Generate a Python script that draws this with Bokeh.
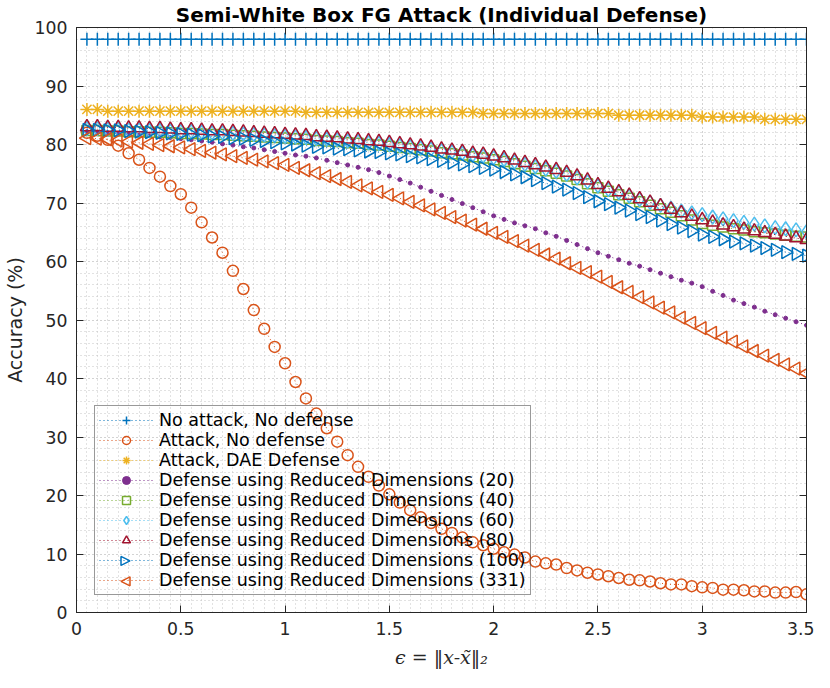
import numpy as np
from bokeh.plotting import figure
from bokeh.models import Range1d, LinearAxis, FixedTicker, Legend, LegendItem, Arrow, NormalHead
from bokeh.embed import file_html
from bokeh.resources import INLINE

eps = [0.05, 0.10, 0.15, 0.20, 0.25, 0.30, 0.35, 0.40, 0.45, 0.50,
       0.55, 0.60, 0.65, 0.70, 0.75, 0.80, 0.85, 0.90, 0.95, 1.00,
       1.05, 1.10, 1.15, 1.20, 1.25, 1.30, 1.35, 1.40, 1.45, 1.50,
       1.55, 1.60, 1.65, 1.70, 1.75, 1.80, 1.85, 1.90, 1.95, 2.00,
       2.05, 2.10, 2.15, 2.20, 2.25, 2.30, 2.35, 2.40, 2.45, 2.50,
       2.55, 2.60, 2.65, 2.70, 2.75, 2.80, 2.85, 2.90, 2.95, 3.00,
       3.05, 3.10, 3.15, 3.20, 3.25, 3.30, 3.35, 3.40, 3.45, 3.50]

no_attack = [98.0] * 70

attack_no_def = [82.0, 81.5, 80.8, 79.8, 78.5, 77.4, 76.0, 74.5, 72.9, 71.5,
                 69.2, 66.7, 64.1, 61.5, 58.4, 55.3, 51.7, 48.5, 45.4, 42.6,
                 39.4, 36.6, 34.0, 31.5, 29.2, 26.9, 24.9, 23.2, 21.7, 20.2,
                 18.8, 17.5, 16.3, 15.3, 14.3, 13.6, 12.8, 12.0, 11.5, 10.9,
                 10.3, 9.9, 9.4, 8.7, 8.4, 8.2, 7.6, 7.2, 6.8, 6.5,
                 6.2, 5.9, 5.6, 5.5, 5.3, 5.0, 4.8, 4.8, 4.5, 4.3,
                 4.2, 3.9, 3.9, 3.8, 3.6, 3.6, 3.4, 3.4, 3.5, 3.1]

dae = [86.0, 86.0, 85.7, 85.7, 85.7, 85.7, 85.7, 85.7, 85.7, 85.7,
       85.7, 85.7, 85.7, 85.7, 85.7, 85.7, 85.7, 85.7, 85.7, 85.7,
       85.7, 85.5, 85.5, 85.5, 85.5, 85.5, 85.5, 85.5, 85.5, 85.5,
       85.5, 85.5, 85.5, 85.5, 85.5, 85.5, 85.5, 85.5, 85.3, 85.3,
       85.3, 85.3, 85.3, 85.3, 85.3, 85.3, 85.3, 85.3, 85.3, 85.3,
       85.3, 85.0, 85.0, 85.0, 85.0, 85.0, 85.0, 85.0, 85.0, 84.7,
       84.7, 84.7, 84.7, 84.7, 84.7, 84.3, 84.3, 84.3, 84.3, 84.3]

rd20 = [82.2, 82.1, 82.0, 81.9, 81.8, 81.6, 81.5, 81.3, 81.2, 81.0,
        80.8, 80.6, 80.4, 80.1, 79.9, 79.6, 79.4, 79.1, 78.8, 78.5,
        78.2, 78.0, 77.7, 77.3, 76.9, 76.5, 76.1, 75.7, 75.2, 74.6,
        74.0, 73.4, 72.7, 72.0, 71.3, 70.6, 69.9, 69.2, 68.5, 67.8,
        67.2, 66.6, 66.1, 65.6, 64.9, 64.3, 63.6, 62.9, 62.2, 61.5,
        60.9, 60.3, 59.7, 59.2, 58.6, 58.0, 57.4, 56.8, 56.3, 55.7,
        54.9, 54.2, 53.4, 52.8, 52.2, 51.5, 50.9, 50.3, 49.7, 49.1]

rd40 = [82.4, 82.4, 82.3, 82.3, 82.2, 82.2, 82.1, 82.1, 82.0, 81.9,
        81.9, 81.8, 81.7, 81.7, 81.6, 81.5, 81.4, 81.3, 81.2, 81.1,
        81.0, 80.9, 80.7, 80.6, 80.5, 80.3, 80.2, 80.0, 79.9, 79.7,
        79.5, 79.3, 79.1, 78.9, 78.6, 78.4, 78.2, 77.9, 77.7, 77.4,
        77.1, 76.7, 76.3, 75.9, 75.5, 75.1, 74.6, 74.0, 73.3, 72.6,
        72.0, 71.4, 70.8, 70.2, 69.6, 69.0, 68.4, 67.8, 67.1, 66.5,
        66.2, 65.9, 65.6, 65.4, 65.1, 64.9, 64.7, 64.5, 64.3, 64.2]

rd60 = [82.7, 82.7, 82.6, 82.6, 82.5, 82.5, 82.4, 82.4, 82.3, 82.2,
        82.2, 82.1, 82.0, 82.0, 81.9, 81.8, 81.7, 81.6, 81.5, 81.4,
        81.3, 81.2, 81.0, 80.9, 80.8, 80.6, 80.5, 80.3, 80.2, 80.0,
        79.8, 79.6, 79.4, 79.2, 78.9, 78.7, 78.5, 78.2, 78.0, 77.7,
        77.4, 77.0, 76.6, 76.2, 75.8, 75.4, 74.9, 74.3, 73.6, 72.9,
        72.3, 71.8, 71.2, 70.6, 70.1, 69.6, 69.1, 68.6, 68.3, 68.0,
        67.6, 67.3, 67.0, 66.7, 66.4, 66.1, 65.8, 65.6, 65.4, 65.1]

rd80 = [83.0, 83.0, 82.9, 82.9, 82.8, 82.8, 82.7, 82.7, 82.6, 82.5,
        82.5, 82.4, 82.3, 82.3, 82.2, 82.1, 82.0, 81.9, 81.8, 81.7,
        81.6, 81.5, 81.3, 81.2, 81.1, 80.9, 80.8, 80.6, 80.5, 80.3,
        80.1, 79.9, 79.7, 79.5, 79.2, 79.0, 78.8, 78.5, 78.3, 78.0,
        77.7, 77.3, 76.9, 76.5, 76.1, 75.7, 75.2, 74.6, 73.9, 73.1,
        72.5, 71.9, 71.3, 70.7, 70.1, 69.5, 68.9, 68.3, 67.7, 67.1,
        66.7, 66.2, 65.9, 65.5, 65.2, 64.9, 64.6, 64.3, 64.0, 63.7]

rd100 = [82.5, 82.5, 82.4, 82.4, 82.3, 82.2, 82.1, 82.0, 81.9, 81.8,
         81.7, 81.6, 81.4, 81.3, 81.1, 81.0, 80.8, 80.6, 80.4, 80.2,
         80.0, 79.8, 79.6, 79.5, 79.3, 79.2, 79.0, 78.8, 78.7, 78.5,
         78.3, 78.0, 77.8, 77.5, 77.2, 76.9, 76.6, 76.3, 76.0, 75.7,
         75.3, 74.9, 74.4, 73.9, 73.4, 72.8, 72.3, 71.7, 71.0, 70.3,
         69.8, 69.2, 68.7, 68.1, 67.6, 67.0, 66.4, 65.8, 65.2, 64.6,
         64.2, 63.8, 63.4, 63.1, 62.7, 62.3, 62.0, 61.6, 61.3, 61.0]

rd331 = [81.1, 81.0, 80.9, 80.7, 80.5, 80.3, 80.1, 79.9, 79.7, 79.5,
         79.2, 78.9, 78.6, 78.3, 78.0, 77.7, 77.4, 77.1, 76.8, 76.5,
         76.0, 75.6, 75.1, 74.6, 74.1, 73.6, 73.0, 72.5, 71.9, 71.4,
         70.8, 70.2, 69.6, 68.9, 68.3, 67.6, 67.0, 66.3, 65.6, 64.9,
         64.2, 63.5, 62.7, 62.0, 61.2, 60.5, 59.7, 58.9, 58.2, 57.4,
         56.5, 55.6, 54.8, 53.9, 53.0, 52.1, 51.3, 50.4, 49.5, 48.6,
         47.8, 47.0, 46.3, 45.5, 44.7, 43.9, 43.2, 42.4, 41.7, 40.9]

labels = ["No attack, No defense", "Attack, No defense", "Attack, DAE Defense",
          "Defense using Reduced Dimensions (20)", "Defense using Reduced Dimensions (40)",
          "Defense using Reduced Dimensions (60)", "Defense using Reduced Dimensions (80)",
          "Defense using Reduced Dimensions (100)", "Defense using Reduced Dimensions (331)"]

x_ticks = [0, 0.5, 1, 1.5, 2, 2.5, 3, 3.5]
y_ticks = [0, 10, 20, 30, 40, 50, 60, 70, 80, 90, 100]

FONT = "DejaVu Sans"
DARK = "#262626"

p = figure(width=814, height=672, x_range=Range1d(0, 3.5), y_range=Range1d(0, 100),
           output_backend="svg", toolbar_location=None,
           min_border_left=74, min_border_right=8, min_border_top=0, min_border_bottom=60)

p.title.text = "Semi-White Box FG Attack (Individual Defense)"
p.title.align = "center"
p.title.text_font = FONT
p.title.text_font_size = "20px"
p.title.text_font_style = "bold"
p.title.text_color = "black"
p.title.standoff = 1

xt = FixedTicker(ticks=x_ticks, minor_ticks=list(np.round(np.arange(0, 3.5001, 0.05), 3)))
yt = FixedTicker(ticks=y_ticks, minor_ticks=list(range(0, 101, 2)))
p.xaxis.ticker = xt
p.yaxis.ticker = yt

for ax in (p.xaxis[0], p.yaxis[0]):
    ax.axis_line_color = DARK
    ax.major_tick_line_color = DARK
    ax.major_tick_in = 7
    ax.major_tick_out = 0
    ax.minor_tick_in = 0
    ax.minor_tick_out = 0
    ax.major_label_text_font = FONT
    ax.major_label_text_font_size = "17.3px"
    ax.major_label_text_color = DARK
    ax.axis_label_text_color = DARK
    ax.axis_label_text_font_size = "19px"

p.xaxis.major_label_standoff = 9
p.yaxis.major_label_standoff = 9
p.yaxis.axis_label = "Accuracy (%)"
p.yaxis.axis_label_text_font = FONT
p.yaxis.axis_label_text_font_style = "normal"
p.yaxis.axis_label_standoff = 6
p.xaxis.axis_label = "\u03f5 = \u2016x-x\u0303\u2016\u2082"
p.xaxis.axis_label_text_font = "DejaVu Serif"
p.xaxis.axis_label_text_font_style = "italic"
p.xaxis.axis_label_standoff = 8

for tick_src, loc in ((yt, "right"), (xt, "above")):
    a = LinearAxis(ticker=FixedTicker(ticks=tick_src.ticks), major_tick_in=7, major_tick_out=0,
                   minor_tick_in=0, minor_tick_out=0, axis_line_color=DARK,
                   major_tick_line_color=DARK, major_label_text_font_size="0px",
                   major_label_text_color=None, major_label_standoff=0)
    p.add_layout(a, loc)

for g in (p.xgrid[0], p.ygrid[0]):
    g.grid_line_color = "#c4c4c4"
    g.grid_line_dash = "1 3"
    g.grid_line_width = 1
    g.minor_grid_line_color = "#c4c4c4"
    g.minor_grid_line_dash = "1 3"
    g.minor_grid_line_width = 1
p.outline_line_color = DARK
p.background_fill_color = "white"

series = [
    (no_attack, "#0072BD", "cross", 13, 0.0, 1.5),
    (attack_no_def, "#D95319", "circle", 11, 0.0, 1.5),
    (dae, "#EDB120", "asterisk", 13, 0.0, 1.5),
    (rd20, "#7E2F8E", "circle", 4, 0.0, 1.0),
    (rd40, "#77AC30", "square", 10, 0.0, 1.5),
    (rd60, "#4DBEEE", "diamond", 14, 0.0, 1.5),
    (rd80, "#A2142F", "triangle", 13, 0.0, 1.5),
    (rd100, "#0072BD", "triangle", 13, -np.pi / 2, 1.5),
    (rd331, "#D95319", "triangle", 13, np.pi / 2, 1.5),
]

LEG_X, LEG_Y, PAD, GW, ROW = 18, 17, 4, 54, 20.4

items = []
for i, ((vals, col, mk, sz, ang, lw), lab) in enumerate(zip(series, labels)):
    rl = p.line(eps, vals, line_color=col, line_width=1, line_dash="1 3")
    fill = col if mk == "circle" and sz < 6 else None
    rs = p.scatter(eps, vals, marker=mk, size=sz, angle=ang, line_color=col,
                   fill_color=fill, line_width=lw)
    if ang == 0.0:
        items.append(LegendItem(label=lab, renderers=[rl, rs]))
    else:
        items.append(LegendItem(label=lab, renderers=[rl]))
        # rotated legend symbol (legend glyphs ignore marker angle)
        d = 1 if ang < 0 else -1
        cx = LEG_X + PAD + GW / 2
        cy = LEG_Y + PAD + (len(labels) - 1 - i + 0.5) * ROW
        hs = 9
        tip = cx + d * hs / 2
        p.add_layout(Arrow(end=NormalHead(size=hs, line_color=col, line_width=1.5, fill_color=None),
                           x_start=tip - d * 30, y_start=cy, x_end=tip, y_end=cy,
                           start_units="screen", end_units="screen", line_alpha=0))

legend = Legend(items=items, location=(LEG_X, LEG_Y), margin=0, padding=PAD, spacing=0,
                glyph_width=GW, glyph_height=20, label_height=20, label_standoff=6,
                label_text_font=FONT, label_text_font_size="17.5px", label_text_color="black",
                background_fill_alpha=0, border_line_color="#333333", border_line_width=1)
p.add_layout(legend)

open("out.html", "w").write(file_html(p, INLINE))
